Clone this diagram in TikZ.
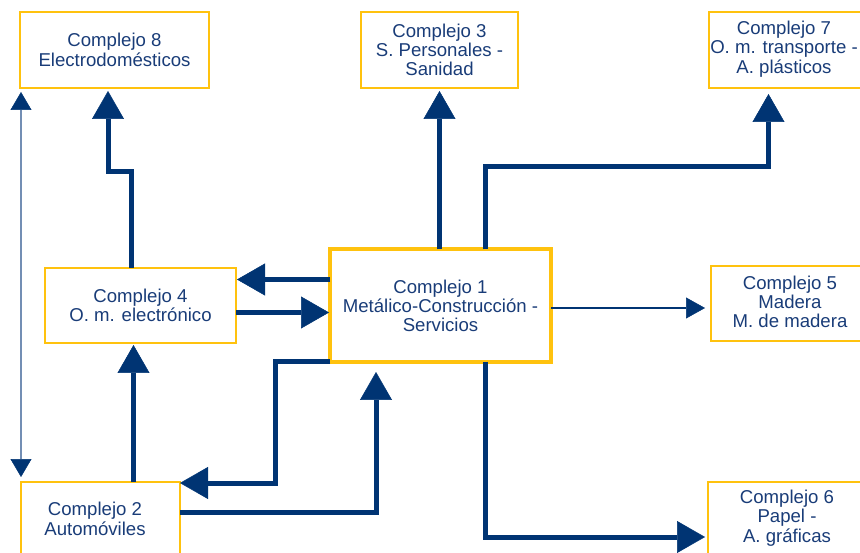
\documentclass[tikz,border=0pt]{standalone}
\usepackage{fontspec}
\setmainfont{Liberation Sans}
\usetikzlibrary{arrows.meta,calc}
\definecolor{navy}{RGB}{0,52,115}
\definecolor{gold}{RGB}{255,194,14}
\definecolor{txt}{RGB}{25,60,120}
\definecolor{thinline}{RGB}{115,142,180}
\begin{document}
\begin{tikzpicture}[x=1pt,y=-1pt,
  box/.style={draw=gold, line width=1.5pt, inner sep=0pt, outer sep=0pt, anchor=center},
  mainbox/.style={draw=gold, line width=4pt, inner sep=0pt, outer sep=0pt, anchor=center},
  lbl/.style={text=txt, align=center, inner sep=0pt, font=\fontsize{18.6}{19.3}\selectfont},
  big/.style={draw=navy, line width=5pt, -{Triangle[width=32pt,length=28pt,line width=0.5pt]}},
  thinarrow/.style={draw=navy, line width=2.5pt, -{Triangle[width=21pt,length=19pt,line width=0.5pt]}},
  twoway/.style={draw=thinline, line width=1.5pt, {Triangle[width=21pt,length=18pt,line width=0.5pt,color=navy]}-{Triangle[width=21pt,length=18pt,line width=0.5pt,color=navy]}}
]
\useasboundingbox (0,0) rectangle (860,553);
\clip (0,0) rectangle (860,553);

% boxes
\node[box, minimum width=189pt, minimum height=76pt, lbl] (b8) at (114.5,50) {Complejo 8\\Electrodomésticos};
\node[box, minimum width=157pt, minimum height=76pt, lbl] (b3) at (439.5,50) {Complejo 3\\S. Personales -\\Sanidad};
\node[box, minimum width=161pt, minimum height=76pt] (b7) at (789.5,50) {};
\node[lbl] (t7) at (784,49) {Complejo 7\\O. m. transporte -\\A. plásticos};
\node[box, minimum width=191pt, minimum height=75pt, lbl] (b4) at (140.5,305.5) {Complejo 4\\O. m. electrónico};
\node[mainbox, minimum width=221pt, minimum height=112.5pt, lbl] (b1) at (440.5,305.75) {Complejo 1\\Metálico-Construcción -\\Servicios};
\node[box, minimum width=159pt, minimum height=75pt] (b5) at (790.5,303.5) {};
\node[lbl] (t5) at (790,302) {Complejo 5\\Madera\\M. de madera};
\node[box, minimum width=162pt, minimum height=74pt] (b6) at (789,519) {};
\node[lbl] (t6) at (787,518) {Complejo 6\\Papel -\\A. gráficas};
\node[box, minimum width=159pt, minimum height=75pt] (b2) at (100.5,519.5) {};
\node[lbl] (t2) at (95,519) {Complejo 2\\Automóviles};

% connectors
\draw[big] ($(b4.north)+(-9.5,0)$) -- ++(0,-96.5) -- ++(-23,0) -- ($(b8.south)+(-6.5,3)$);
\draw[big] ($(b1.north)+(-1,0)$) -- ($(b3.south)+(0,3)$);
\draw[big] ($(b1.north)+(45,0)$) |- ($(b7.south)+(-21,78.5)$) -- ($(b7.south)+(-21,6)$);
\draw[big] ($(b1.west)+(0,-26.25)$) -- ($(b4.east)+(1,-26)$);
\draw[big] ($(b4.east)+(0,7)$) -- ($(b1.west)+(-1,6.75)$);
\draw[big] ($(b2.north)+(33,0)$) -- ($(b4.south)+(-7,2)$);
\draw[big] ($(b1.south west)+(0,-0.5)$) -- ++(-55,0) |- ($(b2.north east)+(0,1)$);
\draw[big] ($(b2.east)+(0,-7)$) -| ($(b1.south)+(-64.5,10)$);
\draw[big] ($(b1.south)+(45,0)$) |- ($(b6.west)+(-3,18)$);
\draw[thinarrow] ($(b1.east)+(0,2.25)$) -- ($(b5.west)+(-6,4.5)$);
\draw[twoway] ($(b8.south west)+(1,4)$) -- ($(b2.north west)+(0,-5)$);
\end{tikzpicture}
\end{document}
